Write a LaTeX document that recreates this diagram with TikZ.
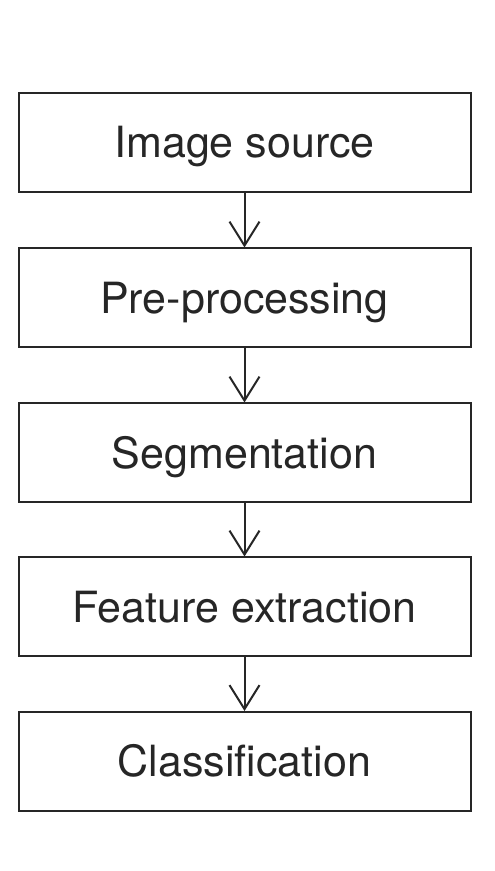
\documentclass[tikz,border=0pt]{standalone}
\usepackage{fontspec}
\setmainfont{TeX Gyre Heros}
\usetikzlibrary{positioning,arrows.meta}
\definecolor{ink}{HTML}{262626}
\tikzset{
  stage/.style={draw=ink,line width=2pt,minimum width=452pt,minimum height=99pt,
    inner sep=0pt,text=ink,text height=31pt,text depth=0pt,font=\fontsize{43}{50}\selectfont},
  flow/.style={draw=ink,line width=2pt,-{Straight Barb[length=24pt,width=30pt]}}
}

\begin{document}
\begin{tikzpicture}[x=1pt,y=1pt]
\useasboundingbox[fill=white] (0,0) rectangle (495,871);
\node[stage] (src) at (244.5,728.5) {Image source};
\node[stage] (pre) at (244.5,573) {Pre-processing};
\node[stage] (seg) at (244.5,418) {Segmentation};
\node[stage] (feat) at (244.5,264) {Feature extraction};
\node[stage] (cls) at (244.5,109.5) {Classification};
\draw[flow] (src) -- (pre);
\draw[flow] (pre) -- (seg);
\draw[flow] (seg) -- (feat);
\draw[flow] (feat) -- (cls);
\end{tikzpicture}
\end{document}
